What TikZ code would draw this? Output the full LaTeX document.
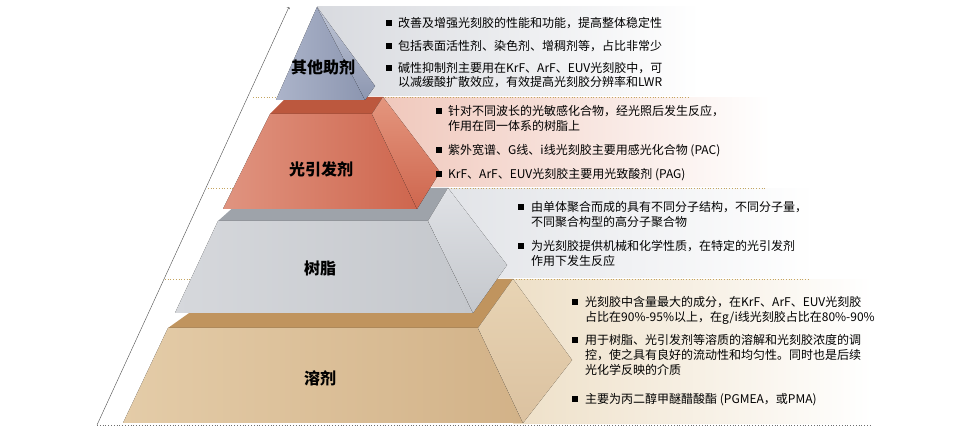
\documentclass[tikz,border=0pt]{standalone}
\usepackage{fontspec}
\setmainfont{Noto Sans CJK SC}
\usepackage{tikz}
\usepackage{xcolor}
\definecolor{addBand}{RGB}{216, 218, 223}
\definecolor{addFront}{RGB}{172, 180, 202}
\definecolor{addFrontDark}{RGB}{140, 150, 176}
\definecolor{addSide}{RGB}{192, 198, 214}
\definecolor{piBand}{RGB}{240, 200, 188}
\definecolor{piTop}{RGB}{188, 88, 62}
\definecolor{piFront}{RGB}{224, 148, 128}
\definecolor{piFrontDark}{RGB}{206, 102, 78}
\definecolor{piSide}{RGB}{228, 150, 126}
\definecolor{resBand}{RGB}{226, 228, 232}
\definecolor{resTop}{RGB}{158, 163, 170}
\definecolor{resFront}{RGB}{214, 216, 220}
\definecolor{resFrontDark}{RGB}{196, 199, 204}
\definecolor{resSide}{RGB}{224, 226, 230}
\definecolor{solBand}{RGB}{238, 224, 200}
\definecolor{solTop}{RGB}{192, 148, 94}
\definecolor{solFront}{RGB}{228, 204, 168}
\definecolor{solFrontDark}{RGB}{210, 178, 136}
\definecolor{solSide}{RGB}{232, 212, 180}
\definecolor{guideGold}{RGB}{196, 164, 96}
\definecolor{guideGray}{RGB}{110, 110, 110}
\newcommand{\bul}{\rule[1.5pt]{6pt}{6pt}}

\begin{document}
\begin{tikzpicture}[x=1pt, y=-1pt,
    layerlabel/.style={font=\fontsize{16}{18}\selectfont\bfseries},
    bullets/.style={anchor=base west, inner sep=0pt, font=\fontsize{12}{15}\selectfont},
    guide/.style={dotted, line width=0.7pt, guideGold}]
    \useasboundingbox (0,0) rectangle (972,435);

    % Bands behind the texts
    \fill[left color=addBand, right color=white] (317,7) rectangle (700,96);
    \fill[left color=piBand, right color=white] (383,98) rectangle (770,187);
    \fill[left color=resBand, right color=white] (448,189) rectangle (815,278);
    \fill[left color=solBand, right color=white] (513,280) rectangle (872,424);

    % Axis
    \coordinate (axisbot) at (97,425);
    \coordinate (axistop) at (289,7);
    \draw[->, line width=0.4pt, black!70] (axisbot) -- (axistop);

    % Separators
    \draw[guide] (253,97) -- (690,97);
    \draw[guide] (208,188) -- (765,188);
    \draw[guide] (165,279) -- (810,279);
    \draw[dotted, line width=0.8pt, guideGray] (97,425) -- (872,425);

    % Solvent
    \fill[solTop] (168,328) -- (237,279) -- (513,279) -- (478,328) -- cycle;
    \fill[left color=solFront, right color=solFrontDark] (168,328) -- (478,328) -- (523,423) -- (123,423) -- cycle;
    \fill[top color=solSide, bottom color=solFrontDark!80] (478,328) -- (513,279) -- (572,360) -- (523,423) -- cycle;

    % Resin
    \fill[resTop] (218,221) -- (255,188) -- (448,188) -- (428,221) -- cycle;
    \fill[left color=resFront, right color=resFrontDark] (218,221) -- (428,221) -- (473,313) -- (175,313) -- cycle;
    \fill[top color=resSide, bottom color=resFrontDark] (428,221) -- (448,188) -- (507,265) -- (473,313) -- cycle;

    % Photoinitiator
    \fill[piTop] (270,114) -- (287,97) -- (383,97) -- (372,114) -- cycle;
    \fill[left color=piFront, right color=piFrontDark] (270,114) -- (372,114) -- (417,209) -- (223,209) -- cycle;
    \fill[top color=piSide, bottom color=piFrontDark] (372,114) -- (383,97) -- (440,172) -- (417,209) -- cycle;

    % Other additives
    \fill[left color=addFront, right color=addFrontDark] (317,7) -- (365,100) -- (276,100) -- cycle;
    \fill[top color=addSide, bottom color=addFrontDark] (317,7) -- (375,86) -- (365,100) -- cycle;

    % Labels
    \node[layerlabel] (addlabel) at (323,67) {其他助剂};
    \node[layerlabel] (pilabel) at (321,169) {光引发剂};
    \node[layerlabel] (reslabel) at (320,268) {树脂};
    \node[layerlabel] (sollabel) at (320,378) {溶剂};

    % Texts
    \node[bullets] (addtext) at (386,27.5) {\begin{tabular}[t]{@{}l@{\hspace{6pt}}l@{}}
        \bul & 改善及增强光刻胶的性能和功能，提高整体稳定性\\[8pt]
        \bul & 包括表面活性剂、染色剂、增稠剂等，占比非常少\\[7pt]
        \bul & 碱性抑制剂主要用在KrF、ArF、EUV光刻胶中，可\\[-1pt]
             & 以减缓酸扩散效应，有效提高光刻胶分辨率和LWR
        \end{tabular}};
    \node[bullets] (pitext) at (436,115.5) {\begin{tabular}[t]{@{}l@{\hspace{6pt}}l@{}}
        \bul & 针对不同波长的光敏感化合物，经光照后发生反应，\\
             & 作用在同一体系的树脂上\\[9pt]
        \bul & 紫外宽谱、G线、i线光刻胶主要用感光化合物 (PAC)\\[9pt]
        \bul & KrF、ArF、EUV光刻胶主要用光致酸剂 (PAG)
        \end{tabular}};
    \node[bullets] (restext) at (518,211.5) {\begin{tabular}[t]{@{}l@{\hspace{7pt}}l@{}}
        \bul & 由单体聚合而成的具有不同分子结构，不同分子量，\\
             & 不同聚合构型的高分子聚合物\\[9pt]
        \bul & 为光刻胶提供机械和化学性质，在特定的光引发剂\\
             & 作用下发生反应
        \end{tabular}};
    \node[bullets] (soltext) at (572,306.5) {\begin{tabular}[t]{@{}l@{\hspace{7pt}}l@{}}
        \bul & 光刻胶中含量最大的成分，在KrF、ArF、EUV光刻胶\\
             & 占比在90\%-95\%以上，在g/i线光刻胶占比在80\%-90\%\\[8pt]
        \bul & 用于树脂、光引发剂等溶质的溶解和光刻胶浓度的调\\
             & 控，使之具有良好的流动性和均匀性。同时也是后续\\
             & 光化学反映的介质\\[14pt]
        \bul & 主要为丙二醇甲醚醋酸酯 (PGMEA，或PMA)
        \end{tabular}};
\end{tikzpicture}
\end{document}
